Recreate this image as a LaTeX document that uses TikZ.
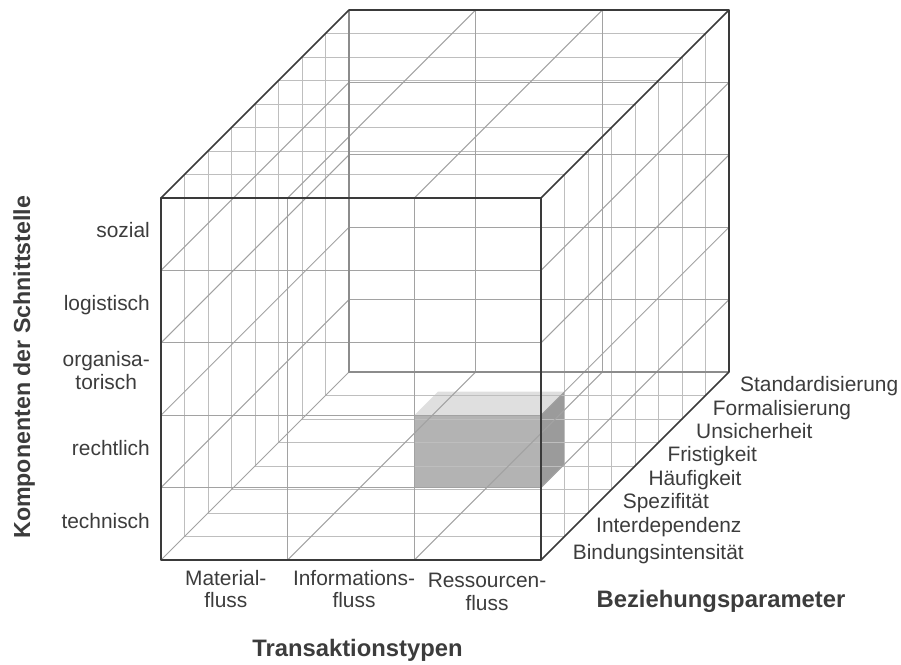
\documentclass[tikz,border=0pt]{standalone}
\usepackage{fontspec}
\setmainfont{Liberation Sans}
\usetikzlibrary{calc}
\definecolor{gridlight}{HTML}{BEBEBE}
\definecolor{gridmid}{HTML}{A2A2A2}
\definecolor{edgehid}{HTML}{8C8C8C}
\definecolor{edgedark}{HTML}{3A3A3A}
\definecolor{txt}{HTML}{3C3C3C}
\definecolor{boxfront}{HTML}{B3B3B3}
\definecolor{boxtop}{HTML}{DFDFDF}
\definecolor{boxside}{HTML}{9B9B9B}
\begin{document}
\begin{tikzpicture}[x=1pt,y=-1pt,
  lightline/.style={draw=gridlight,line width=1pt},
  midline/.style={draw=gridmid,line width=1pt},
  hiddenedge/.style={draw=edgehid,line width=1.2pt},
  outeredge/.style={draw=edgedark,line width=1.6pt,line join=round},
  lbl/.style={text=txt,inner sep=0pt,font=\fontsize{20.9}{22.7}\selectfont},
  ttl/.style={text=txt,inner sep=0pt,font=\fontsize{23.8}{28}\selectfont\bfseries}]
\useasboundingbox (0,0) rectangle (901,664);

% cube corners: front face F, back face B
\coordinate (F1) at (161,198);
\coordinate (F2) at (541,198);
\coordinate (F3) at (541,560);
\coordinate (F4) at (161,560);
\coordinate (B1) at (349,10);
\coordinate (B2) at (729,10);
\coordinate (B3) at (729,372);
\coordinate (B4) at (349,372);

% highlighted cell: Ressourcenfluss / rechtlich / Bindungsintensitaet
\coordinate (C1) at (414.33,415.2);
\coordinate (C2) at (541,415.2);
\coordinate (C3) at (541,487.6);
\coordinate (C4) at (414.33,487.6);
\fill[boxtop]   (C1) -- (C2) -- ++(23.5,-23.5) -- ($(C1)+(23.5,-23.5)$) -- cycle;
\fill[boxside]  (C2) -- ++(23.5,-23.5) -- ++(0,72.4) -- (C3) -- cycle;
\fill[boxfront] (C1) rectangle (C3);

% depth slices (one rectangle per parameter level)
\foreach \k in {1,...,7}
  \draw[lightline] (161+23.5*\k,198-23.5*\k) rectangle (541+23.5*\k,560-23.5*\k);

% receding lines from the front grid
\foreach \j in {1,...,4}{
  \draw[midline] (161,198+72.4*\j) -- ++(188,-188);
  \draw[midline] (541,198+72.4*\j) -- ++(188,-188);
}
\foreach \i in {1,2}{
  \draw[midline] (161+126.667*\i,198) -- ++(188,-188);
  \draw[midline] (161+126.667*\i,560) -- ++(188,-188);
}
\draw[midline] (F4) -- (B4);

% front and back grids
\foreach \i in {1,2}{
  \draw[midline] (161+126.667*\i,198) -- (161+126.667*\i,560);
  \draw[midline] (349+126.667*\i,10) -- (349+126.667*\i,372);
}
\foreach \j in {1,...,4}{
  \draw[midline] (161,198+72.4*\j) -- (541,198+72.4*\j);
  \draw[midline] (349,10+72.4*\j) -- (729,10+72.4*\j);
}

% hidden back edges
\draw[hiddenedge] (B1) -- (B4) -- (B3);

% visible outline
\draw[outeredge] (F1) rectangle (F3);
\draw[outeredge] (F1) -- (B1) -- (B2) -- (B3) -- (F3);
\draw[outeredge] (F2) -- (B2);

% Komponenten der Schnittstelle
\node[lbl,anchor=base east] (sozial) at (150,237.3) {sozial};
\node[lbl,anchor=base east] (logist) at (150,310) {logistisch};
\node[lbl,anchor=base east,align=center] (organ) at (150,389.3) {organisa-\\torisch};
\node[lbl,anchor=base east] (recht) at (150,455) {rechtlich};
\node[lbl,anchor=base east] (techn) at (150,528) {technisch};
\node[ttl,anchor=base,rotate=90,font=\fontsize{23.2}{28}\selectfont\bfseries] (komp) at (30,367.3) {Komponenten der Schnittstelle};

% Transaktionstypen
\node[lbl,anchor=base,align=center] (mat) at (225.8,607.7) {Material-\\fluss};
\node[lbl,anchor=base,align=center] (inf) at (354,607.7) {Informations-\\fluss};
\node[lbl,anchor=base,align=center] (res) at (487,610) {Ressourcen-\\fluss};
\node[ttl,anchor=base] (trans) at (357.5,656) {Transaktionstypen};

% Beziehungsparameter
\node[lbl,anchor=base west] (p8) at (740,391.7) {Standardisierung};
\node[lbl,anchor=base west] (p7) at (712.7,415) {Formalisierung};
\node[lbl,anchor=base west] (p6) at (696,438.3) {Unsicherheit};
\node[lbl,anchor=base west] (p5) at (667.3,461) {Fristigkeit};
\node[lbl,anchor=base west] (p4) at (648.3,485) {Häufigkeit};
\node[lbl,anchor=base west] (p3) at (622.7,508.3) {Spezifität};
\node[lbl,anchor=base west] (p2) at (596,532.7) {Interdependenz};
\node[lbl,anchor=base west] (p1) at (572.7,559.3) {Bindungsintensität};
\node[ttl,anchor=base] (bez) at (721,607.3) {Beziehungsparameter};
\end{tikzpicture}
\end{document}
